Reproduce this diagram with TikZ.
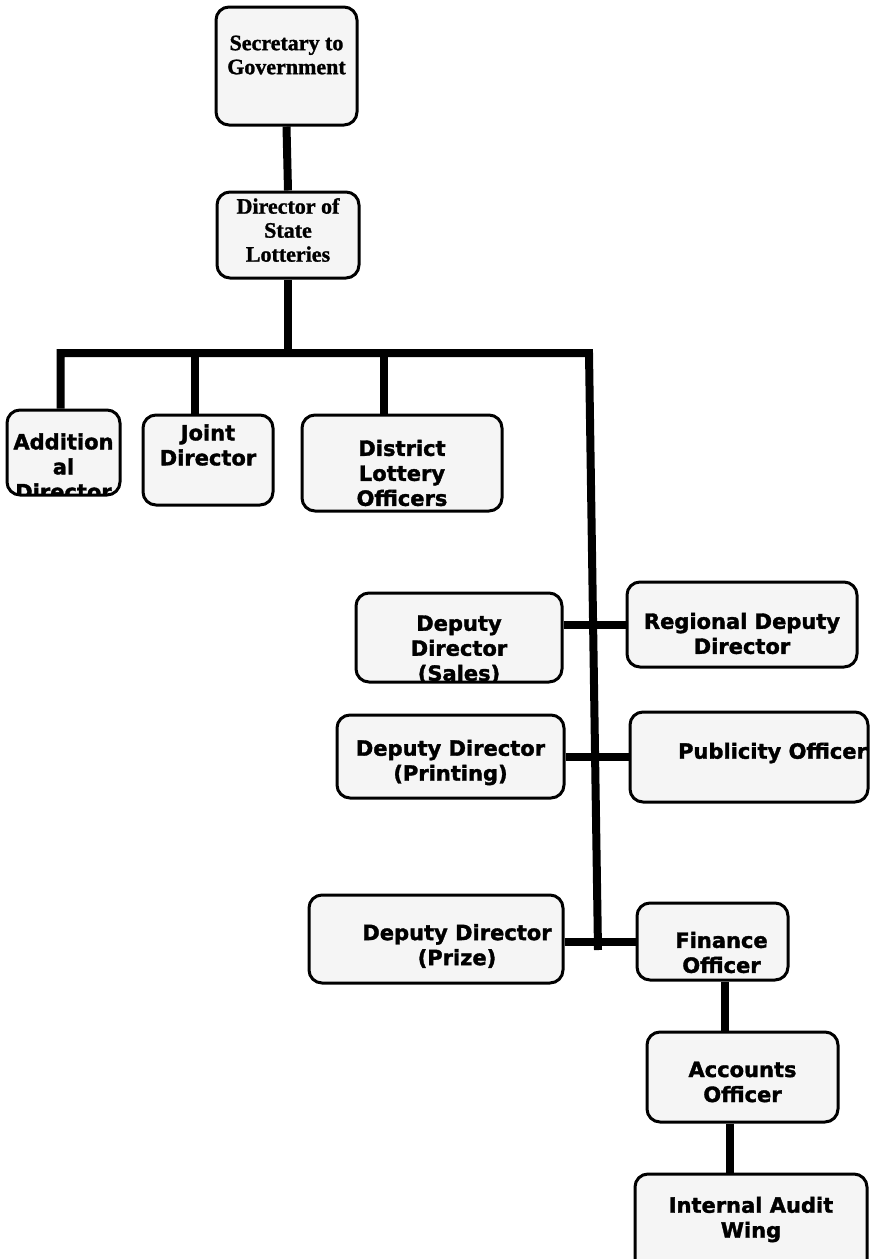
\documentclass[tikz,border=0pt]{standalone}
\usepackage{fontspec}
\setmainfont{DejaVu Sans}[BoldFeatures={FakeBold=1.6}]
\newfontfamily\serifface{Liberation Serif}[BoldFeatures={FakeBold=1.2}]

\tikzset{
  post/.style={draw, line width=3pt, rounded corners=13pt, fill=black!4, inner sep=0pt},
  txt/.style={draw=none, fill=none, align=center, font=\bfseries\fontsize{21}{25}\selectfont},
  serif/.style={draw=none, fill=none, align=center, font=\serifface\bfseries\fontsize{22}{24}\selectfont},
  link/.style={line width=8pt},
}

\begin{document}
\begin{tikzpicture}[x=1pt, y=-1pt]
\clip (0,0) rectangle (877,1259);
\fill[white] (0,0) rectangle (877,1259);

\node[post, minimum width=141pt, minimum height=118pt, path picture={\node[serif] at ([yshift=11pt]path picture bounding box.center) {Secretary to\\Government};}] (sec) at (286.5,66) {};
\node[post, minimum width=142pt, minimum height=86pt, path picture={\node[serif] at ([yshift=5pt]path picture bounding box.center) {Director of\\State\\Lotteries};}] (dir) at (288,235) {};

\node[post, minimum width=113pt, minimum height=85pt, path picture={\node[txt] at ([yshift=-14pt]path picture bounding box.center) {Addition\\al\\Director};}] (addl) at (63.5,452.5) {};
\node[post, minimum width=130pt, minimum height=90pt, path picture={\node[txt] at ([yshift=15pt]path picture bounding box.center) {Joint\\Director};}] (joint) at (208,460) {};
\node[post, minimum width=200pt, minimum height=96pt, path picture={\node[txt] at ([yshift=-10pt]path picture bounding box.center) {District\\Lottery\\Officers};}] (dlo) at (402,463) {};

\node[post, minimum width=206pt, minimum height=89pt, path picture={\node[txt] at ([yshift=-12pt]path picture bounding box.center) {Deputy\\Director\\(Sales)};}] (ddsales) at (459,637.5) {};
\node[post, minimum width=230pt, minimum height=85pt, path picture={\node[txt] at ([yshift=-9pt]path picture bounding box.center) {Regional Deputy\\Director};}] (rdd) at (742,624.5) {};
\node[post, minimum width=227pt, minimum height=83pt, path picture={\node[txt] at ([yshift=-6pt]path picture bounding box.center) {Deputy Director\\(Printing)};}] (ddprint) at (450.5,756.5) {};
\node[post, minimum width=238pt, minimum height=90pt, path picture={\node[txt, anchor=west, inner sep=0pt] at ([xshift=22pt, yshift=4pt]path picture bounding box.west) {Publicity Officer};}] (pub) at (749,757) {};
\node[post, minimum width=254pt, minimum height=88pt, path picture={\node[txt] at ([xshift=21pt, yshift=-7pt]path picture bounding box.center) {Deputy Director\\(Prize)};}] (ddprize) at (436,939) {};
\node[post, minimum width=151pt, minimum height=77pt, path picture={\node[txt] at ([xshift=9pt, yshift=-11pt]path picture bounding box.center) {Finance\\Officer};}] (fin) at (712.5,941.5) {};
\node[post, minimum width=191pt, minimum height=90pt, path picture={\node[txt] at ([yshift=-5pt]path picture bounding box.center) {Accounts\\Officer};}] (acc) at (742.5,1077) {};
\node[post, minimum width=232pt, minimum height=100pt, path picture={\node[txt] at ([yshift=4.5pt]path picture bounding box.center) {Internal Audit\\Wing};}] (iaw) at (751,1224) {};

\coordinate (bus) at (589,353);
\coordinate (trunk) at (598,950);

\draw[link] (sec.south) -- (dir.north);
\draw[link] (dir.south) -- (dir.south |- bus);
\draw[link] ([xshift=-3pt]addl.north) -- ([xshift=-3pt]addl.north |- bus) -- (bus) -- (trunk);
\draw[link] ([xshift=-13pt]joint.north) -- ([xshift=-13pt]joint.north |- bus);
\draw[link] ([xshift=-18pt]dlo.north) -- ([xshift=-18pt]dlo.north |- bus);
\draw[link] (ddsales.east |- rdd.west) -- (rdd.west);
\draw[link] (ddprint.east |- pub.west) -- (pub.west);
\draw[link] (ddprize.east |- fin.west) -- (fin.west);
\draw[link] ([xshift=12.5pt]fin.south) -- ([xshift=12.5pt]fin.south |- acc.north);
\draw[link] ([xshift=-12.5pt]acc.south) -- ([xshift=-12.5pt]acc.south |- iaw.north);
\end{tikzpicture}
\end{document}
